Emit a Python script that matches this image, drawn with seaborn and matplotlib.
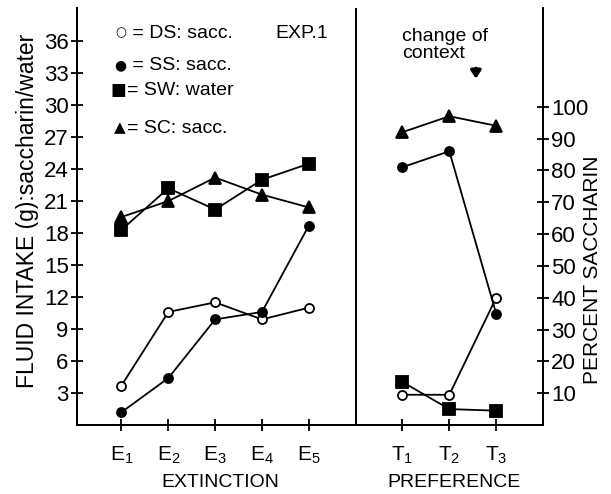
import numpy as np
import pandas as pd
import seaborn as sns
import matplotlib.pyplot as plt
import matplotlib.transforms as mtransforms

# extinction sessions (fluid intake, g)
ext_labels = ["E$_1$", "E$_2$", "E$_3$", "E$_4$", "E$_5$"]
ext_x = [1, 2, 3, 4, 5]
ds_ext = [3.7, 10.6, 11.5, 9.9, 11.0]
ss_ext = [1.2, 4.4, 9.9, 10.6, 18.7]
sw_ext = [18.3, 22.2, 20.2, 23.0, 24.5]
sc_ext = [19.5, 21.0, 23.2, 21.6, 20.4]

# preference tests (percent saccharin)
pref_labels = ["T$_1$", "T$_2$", "T$_3$"]
pref_x = [7, 8, 9]
ds_pref = [9.5, 9.5, 40.0]
ss_pref = [81.0, 86.0, 35.0]
sw_pref = [13.5, 5.0, 4.5]
sc_pref = [92.0, 97.0, 94.0]

left_ticks = list(range(3, 37, 3))
right_ticks = list(range(10, 101, 10))

legend_symbols = ["○", "●", "■", "▲"]
legend_texts = [" = DS: sacc.", " = SS: sacc.", "= SW: water", "= SC: sacc."]

sns.set_style("white")
plt.rcParams["font.family"] = ["Liberation Sans", "DejaVu Sans"]
plt.rcParams["text.color"] = "black"
plt.rcParams["mathtext.fontset"] = "custom"
plt.rcParams["mathtext.rm"] = "Liberation Sans"
plt.rcParams["mathtext.it"] = "Liberation Sans"

fig = plt.figure(figsize=(6.11, 4.94), dpi=100)
ax = fig.add_axes([77 / 611, 1 - 425 / 494, 466 / 611, 417 / 494])
ax2 = ax.twinx()

styles = {
    "DS": dict(marker="o", markerfacecolor="white", markersize=6.5),
    "SS": dict(marker="o", markerfacecolor="black", markersize=6.5),
    "SW": dict(marker="s", markerfacecolor="black", markersize=9),
    "SC": dict(marker="^", markerfacecolor="black", markersize=8),
}
ext = {"DS": ds_ext, "SS": ss_ext, "SW": sw_ext, "SC": sc_ext}
pref = {"DS": ds_pref, "SS": ss_pref, "SW": sw_pref, "SC": sc_pref}

for key, st in styles.items():
    sns.lineplot(x=ext_x, y=ext[key], ax=ax, color="black", linewidth=1.3,
                 markeredgecolor="black", markeredgewidth=1.3, **st)
    sns.lineplot(x=pref_x, y=pref[key], ax=ax2, color="black", linewidth=1.3,
                 markeredgecolor="black", markeredgewidth=1.3, **st)

ax.set_xlim(0.05, 10.0)
ax.set_ylim(0, 39.1)
ax2.set_ylim(0, 131)

ax.set_xticks(ext_x + pref_x)
ax.set_xticklabels(ext_labels + pref_labels, fontsize=15)
ax.set_yticks(left_ticks)
ax.set_yticklabels([str(t) for t in left_ticks], fontsize=16)
ax2.set_yticks(right_ticks)
ax2.set_yticklabels([str(t) for t in right_ticks], fontsize=16)

for a in (ax, ax2):
    for s in a.spines.values():
        s.set_linewidth(1.4)
        s.set_color("black")
    a.spines["top"].set_visible(False)
    a.tick_params(direction="inout", length=8, width=1.3, colors="black", pad=2)
ax.tick_params(axis="x", bottom=True, pad=10)
ax.tick_params(axis="y", left=True)
ax2.tick_params(axis="y", right=True)
ax.axvline(6.0, color="black", linewidth=1.4)
ax.grid(False)
ax2.grid(False)

# axis titles placed where the reference has them
fig.text(28 / 611, 1 - 211 / 494, "FLUID INTAKE (g):saccharin/water", rotation=90,
         ha="center", va="center", fontsize=16.5)
fig.text(592 / 611, 1 - 270 / 494, "PERCENT SACCHARIN", rotation=90,
         ha="center", va="center", fontsize=15)

trans = mtransforms.blended_transform_factory(ax.transData, ax.transAxes)
ax.text(3.1, -0.137, "EXTINCTION", transform=trans, ha="center", va="center", fontsize=14)
ax.text(8.1, -0.137, "PREFERENCE", transform=trans, ha="center", va="center", fontsize=14)

# hand-made key
leg_y = [0.94, 0.863, 0.803, 0.712]
sym_x = [0.094, 0.094, 0.088, 0.091]
sym_fs = [9, 10, 12, 11]
for sym, txt, xx, yy, fs in zip(legend_symbols, legend_texts, sym_x, leg_y, sym_fs):
    ax.text(xx, yy, sym, transform=ax.transAxes, fontsize=fs, va="center", ha="center",
            family="DejaVu Sans")
    ax.text(0.108, yy, txt, transform=ax.transAxes, fontsize=14, va="center")
ax.text(0.425, 0.94, "EXP.1", transform=ax.transAxes, fontsize=14, va="center")

ax.text(0.697, 0.912, "change of\ncontext", transform=ax.transAxes, fontsize=14,
        va="center", ha="left", linespacing=1.0)
ax.annotate("", xy=(0.856, 0.824), xytext=(0.856, 0.862), xycoords="axes fraction",
            arrowprops=dict(arrowstyle="-|>,head_width=0.3,head_length=0.45",
                            color="black", linewidth=2.5))

fig.savefig("out.png", dpi=100)
